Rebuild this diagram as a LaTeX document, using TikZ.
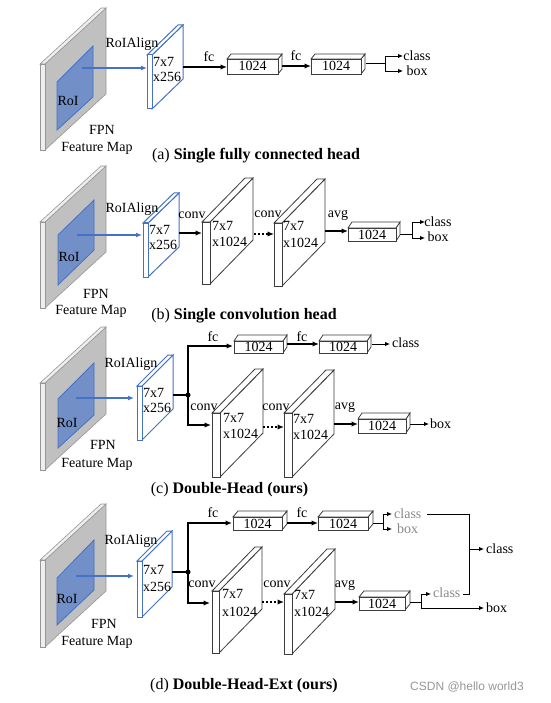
\documentclass[tikz,border=0pt]{standalone}
\usepackage{fontspec}
\setmainfont{Liberation Serif}
\newfontfamily\wmfont{Liberation Sans}
\usetikzlibrary{arrows.meta}
\definecolor{fmgray}{RGB}{192,192,192}
\definecolor{fmedge}{RGB}{150,150,150}
\definecolor{fmlight}{RGB}{238,238,238}
\definecolor{roifill}{RGB}{114,143,199}
\definecolor{roiblue}{RGB}{68,114,196}
\definecolor{boxedge}{RGB}{60,60,60}
\definecolor{graytext}{RGB}{135,135,135}
\definecolor{wmgray}{RGB}{150,150,150}
\tikzset{
  lbl/.style={font=\fontsize{14}{16}\selectfont, inner sep=0pt, text height=9.5pt, text depth=0.5pt},
  glbl/.style={lbl, text=graytext},
  captxt/.style={font=\fontsize{16}{18}\selectfont, inner sep=0pt, text height=11pt, text depth=1pt},
  thickarrow/.style={line width=1.8pt, -{Latex[length=6.5pt,width=5.5pt]}},
  thinarrow/.style={line width=0.9pt, -{Latex[length=5pt,width=4.5pt]}},
  thinline/.style={line width=0.9pt},
  thickline/.style={line width=1.8pt},
  dotarrow/.style={line width=1.8pt, dash pattern=on 2pt off 2pt, -{Latex[length=6.5pt,width=5.5pt]}},
  bluearrow/.style={roiblue, line width=1.3pt, -{Latex[length=6pt,width=5pt]}},
  fm side/.style={fill=fmgray, draw=fmedge, line width=0.6pt},
  fm thin/.style={fill=fmlight, draw=fmedge, line width=0.6pt},
  roi/.style={fill=roifill, draw=roiblue, line width=0.8pt},
  blue side/.style={fill=white, draw=roiblue, line width=1pt},
  blue thin/.style={fill=white, draw=roiblue, line width=1pt},
  conv side/.style={fill=white, draw=boxedge, line width=0.8pt},
  conv thin/.style={fill=white, draw=boxedge, line width=0.8pt},
  box side/.style={fill=white, draw=boxedge, line width=0.8pt},
  box thin/.style={fill=white, draw=boxedge, line width=0.8pt},
  jdot/.style={circle, fill=black, inner sep=0pt, minimum size=5pt},
}
% #1 x0, #2 yt, #3 yb, #4 w, #5 dx, #6 dy, #7 style prefix
\newcommand{\slabdraw}[7]{%
  \path[#7 side] ({#1+#4},#2) -- ({#1+#4+#5},{#2-#6}) -- ({#1+#4+#5},{#3-#6}) -- ({#1+#4},#3) -- cycle;
  \path[#7 thin] (#1,#2) -- ({#1+#5},{#2-#6}) -- ({#1+#4+#5},{#2-#6}) -- ({#1+#4},#2) -- cycle;
  \path[#7 thin] (#1,#2) rectangle ({#1+#4},#3);
}
\begin{document}
\begin{tikzpicture}[x=1pt,y=-1pt]
\useasboundingbox (0,0) rectangle (550,703);

% ================= (a) =================
\slabdraw{40}{64}{150}{5}{61}{56}{fm}
\path[roi] (57,82) -- (93,46) -- (93,97) -- (57,130) -- cycle;
\node[lbl] (a-roi) at (68,101) {RoI};
\node[lbl] (a-fpn) at (102,130) {FPN};
\node[lbl] (a-fmap) at (97,147) {Feature Map};
\coordinate (a-rs) at (82,68);
\coordinate (a-re) at (147,68);
\draw[bluearrow] (a-rs) -- (a-re);
\slabdraw{147}{55}{109}{5}{31}{30}{blue}
\node[lbl] (a-align) at (132,43) {RoIAlign};
\node[lbl, anchor=west] (a-s1) at (153,62) {7x7};
\node[lbl, anchor=west] (a-s2) at (153,77) {x256};
\coordinate (a-o0) at (183,67);
\coordinate (a-i1) at (227,67);
\draw[thickarrow] (a-o0) -- (a-i1);
\node[lbl] (a-fc1) at (209,57) {fc};
\slabdraw{227}{59}{74}{51}{4}{5}{box}
\node[lbl] (a-b1) at (252.5,66.5) {1024};
\coordinate (a-o1) at (282,66);
\coordinate (a-i2) at (311,66);
\draw[thickarrow] (a-o1) -- (a-i2);
\node[lbl] (a-fc2) at (296,56) {fc};
\slabdraw{311}{59}{74}{50}{4}{5}{box}
\node[lbl] (a-b2) at (336,66.5) {1024};
\coordinate (a-o2) at (366,63);
\coordinate (a-j) at (385,63);
\coordinate (a-jt) at (385,56);
\coordinate (a-jb) at (385,71);
\coordinate (a-ct) at (403,56);
\coordinate (a-cb) at (403,71);
\draw[thinline] (a-o2) -- (a-j);
\draw[thinline] (a-jt) -- (a-jb);
\draw[thinarrow] (a-jt) -- (a-ct);
\draw[thinarrow] (a-jb) -- (a-cb);
\node[lbl] (a-class) at (417,56) {class};
\node[lbl] (a-box) at (417,71) {box};
\node[captxt] (a-cap) at (256,155) {(a) \textbf{Single fully connected head}};

% ================= (b) =================
\slabdraw{40}{222}{308}{5}{61}{56}{fm}
\path[roi] (58,235) -- (94,200) -- (94,250) -- (58,285) -- cycle;
\node[lbl] (b-roi) at (69,257) {RoI};
\node[lbl] (b-fpn) at (96,294) {FPN};
\node[lbl] (b-fmap) at (91,310) {Feature Map};
\coordinate (b-rs) at (77,235);
\coordinate (b-re) at (142,235);
\draw[bluearrow] (b-rs) -- (b-re);
\slabdraw{143}{223}{277}{5}{31}{30}{blue}
\node[lbl] (b-align) at (132,208) {RoIAlign};
\node[lbl, anchor=west] (b-s1) at (149,230) {7x7};
\node[lbl, anchor=west] (b-s2) at (149,245) {x256};
\coordinate (b-o0) at (179,233);
\coordinate (b-i1) at (202,233);
\draw[thickarrow] (b-o0) -- (b-i1);
\node[lbl] (b-conv1) at (192,214) {conv};
\slabdraw{202}{222}{284}{8}{43}{44}{conv}
\node[lbl, anchor=west] (b-c1a) at (212,226) {7x7};
\node[lbl, anchor=west] (b-c1b) at (212,242) {x1024};
\coordinate (b-o1) at (254,234);
\coordinate (b-i2) at (274,234);
\draw[dotarrow] (b-o1) -- (b-i2);
\node[lbl] (b-conv2) at (268,213) {conv};
\slabdraw{274}{223}{286}{8}{43}{44}{conv}
\node[lbl, anchor=west] (b-c2a) at (283,226) {7x7};
\node[lbl, anchor=west] (b-c2b) at (283,243) {x1024};
\coordinate (b-o2) at (325,231);
\coordinate (b-i3) at (348,231);
\draw[thickarrow] (b-o2) -- (b-i3);
\node[lbl] (b-avg) at (338,213) {avg};
\slabdraw{348}{228}{241}{48}{4}{6}{box}
\node[lbl] (b-b1) at (372,234.5) {1024};
\coordinate (b-o3) at (400,234);
\coordinate (b-j) at (412,234);
\coordinate (b-jt) at (412,222);
\coordinate (b-jb) at (412,238);
\coordinate (b-ct) at (425,222);
\coordinate (b-cb) at (425,238);
\draw[thinline] (b-o3) -- (b-j);
\draw[thinline] (b-jt) -- (b-jb);
\draw[thinarrow] (b-jt) -- (b-ct);
\draw[thinarrow] (b-jb) -- (b-cb);
\node[lbl] (b-class) at (438,222) {class};
\node[lbl] (b-box) at (438,237) {box};
\node[captxt] (b-cap) at (244,314) {(b) \textbf{Single convolution head}};

% ================= (c) =================
\slabdraw{40}{383}{470}{5}{61}{56}{fm}
\path[roi] (58,399) -- (94,363) -- (94,415) -- (58,448) -- cycle;
\node[lbl] (c-roi) at (67,423) {RoI};
\node[lbl] (c-fpn) at (103,445) {FPN};
\node[lbl] (c-fmap) at (97,463) {Feature Map};
\coordinate (c-rs) at (76,398);
\coordinate (c-re) at (134,398);
\draw[bluearrow] (c-rs) -- (c-re);
\slabdraw{137}{386}{440}{5}{31}{31}{blue}
\node[lbl] (c-align) at (131,363) {RoIAlign};
\node[lbl, anchor=west] (c-s1) at (143,393) {7x7};
\node[lbl, anchor=west] (c-s2) at (143,408) {x256};
\coordinate (c-o0) at (173,395);
\coordinate (c-j) at (188,395);
\coordinate (c-i1) at (233,346);
\coordinate (c-i3) at (211,425);
\draw[thickline] (c-o0) -- (c-j);
\draw[thickarrow] (c-j) |- (c-i1);
\draw[thickarrow] (c-j) |- (c-i3);
\node[jdot] (c-dot) at (c-j) {};
\node[lbl] (c-fc1) at (213,337) {fc};
\slabdraw{234}{341}{353}{49}{4}{6}{box}
\node[lbl] (c-b1) at (258.5,347) {1024};
\coordinate (c-o1) at (287,344);
\coordinate (c-i2) at (319,344);
\draw[thickarrow] (c-o1) -- (c-i2);
\node[lbl] (c-fc2) at (302,337) {fc};
\slabdraw{319}{341}{353}{48}{4}{6}{box}
\node[lbl] (c-b2) at (343,347) {1024};
\coordinate (c-o2) at (372,344);
\coordinate (c-ct) at (390,344);
\draw[thinarrow] (c-o2) -- (c-ct);
\node[lbl, anchor=west] (c-class) at (392,343) {class};
\node[lbl] (c-conv1) at (204,406) {conv};
\slabdraw{212}{413}{477}{8}{43}{44}{conv}
\node[lbl, anchor=west] (c-c1a) at (223,418) {7x7};
\node[lbl, anchor=west] (c-c1b) at (223,434) {x1024};
\coordinate (c-o3) at (263,427);
\coordinate (c-i4) at (284,427);
\draw[dotarrow] (c-o3) -- (c-i4);
\node[lbl] (c-conv2) at (276,406) {conv};
\slabdraw{284}{413}{477}{8}{42}{43}{conv}
\node[lbl, anchor=west] (c-c2a) at (293,419) {7x7};
\node[lbl, anchor=west] (c-c2b) at (293,435) {x1024};
\coordinate (c-o4) at (334,424);
\coordinate (c-i5) at (358,424);
\draw[thickarrow] (c-o4) -- (c-i5);
\node[lbl] (c-avg) at (345,405) {avg};
\slabdraw{358}{419}{433}{48}{4}{6}{box}
\node[lbl] (c-b3) at (382,426) {1024};
\coordinate (c-o5) at (410,424);
\coordinate (c-cb) at (429,424);
\draw[thinarrow] (c-o5) -- (c-cb);
\node[lbl, anchor=west] (c-box) at (430,424) {box};
\node[captxt] (c-cap) at (229.5,488) {(c) \textbf{Double-Head (ours)}};

% ================= (d) =================
\slabdraw{40}{560}{647}{5}{61}{56}{fm}
\path[roi] (57,578) -- (94,540) -- (94,590) -- (57,625) -- cycle;
\node[lbl] (d-roi) at (67,599) {RoI};
\node[lbl] (d-fpn) at (104,624) {FPN};
\node[lbl] (d-fmap) at (97,641) {Feature Map};
\coordinate (d-rs) at (76,576);
\coordinate (d-re) at (134,576);
\draw[bluearrow] (d-rs) -- (d-re);
\slabdraw{137}{561}{617}{5}{30}{30}{blue}
\node[lbl] (d-align) at (131,540) {RoIAlign};
\node[lbl, anchor=west] (d-s1) at (143,570) {7x7};
\node[lbl, anchor=west] (d-s2) at (143,587) {x256};
\coordinate (d-o0) at (172,572);
\coordinate (d-j) at (188,572);
\coordinate (d-i1) at (232,523);
\coordinate (d-i3) at (210,603);
\draw[thickline] (d-o0) -- (d-j);
\draw[thickarrow] (d-j) |- (d-i1);
\draw[thickarrow] (d-j) |- (d-i3);
\node[jdot] (d-dot) at (d-j) {};
\node[lbl] (d-fc1) at (213,513) {fc};
\slabdraw{233}{517}{530}{49}{5}{6}{box}
\node[lbl] (d-b1) at (257.5,523.5) {1024};
\coordinate (d-o1) at (287,523);
\coordinate (d-i2) at (318,523);
\draw[thickarrow] (d-o1) -- (d-i2);
\node[lbl] (d-fc2) at (302,513) {fc};
\slabdraw{318}{517}{530}{50}{5}{6}{box}
\node[lbl] (d-b2) at (343,523.5) {1024};
\coordinate (d-o2) at (373,523);
\coordinate (d-j2) at (383,523);
\coordinate (d-j2t) at (383,514);
\coordinate (d-j2b) at (383,529);
\coordinate (d-gct) at (392,514);
\coordinate (d-gcb) at (392,529);
\draw[thinline] (d-o2) -- (d-j2);
\draw[thinline] (d-j2t) -- (d-j2b);
\draw[thinarrow] (d-j2t) -- (d-gct);
\draw[thinarrow] (d-j2b) -- (d-gcb);
\node[glbl, anchor=west] (d-gclass1) at (394,514) {class};
\node[glbl, anchor=west] (d-gbox1) at (397,529) {box};
\node[lbl] (d-conv1) at (202,583) {conv};
\slabdraw{212}{591}{653}{7}{43}{44}{conv}
\node[lbl, anchor=west] (d-c1a) at (222,594) {7x7};
\node[lbl, anchor=west] (d-c1b) at (222,612) {x1024};
\coordinate (d-o3) at (262,602);
\coordinate (d-i4) at (284,602);
\draw[dotarrow] (d-o3) -- (d-i4);
\node[lbl] (d-conv2) at (277,583) {conv};
\slabdraw{284}{594}{654}{8}{43}{45}{conv}
\node[lbl, anchor=west] (d-c2a) at (294,595) {7x7};
\node[lbl, anchor=west] (d-c2b) at (294,612) {x1024};
\coordinate (d-o4) at (335,602);
\coordinate (d-i5) at (359,602);
\draw[thickarrow] (d-o4) -- (d-i5);
\node[lbl] (d-avg) at (345,583) {avg};
\slabdraw{359}{597}{610}{46}{5}{6}{box}
\node[lbl] (d-b3) at (382,603.5) {1024};
\coordinate (d-o5) at (410,602);
\coordinate (d-j3) at (421,602);
\coordinate (d-j3t) at (421,594);
\coordinate (d-j3b) at (421,608);
\coordinate (d-gc2in) at (431,594);
\coordinate (d-boxin) at (484,608);
\draw[thinline] (d-o5) -- (d-j3);
\draw[thinline] (d-j3t) -- (d-j3b);
\draw[thinarrow] (d-j3t) -- (d-gc2in);
\draw[thinarrow] (d-j3b) -- (d-boxin);
\node[glbl, anchor=west] (d-gclass2) at (433,593) {class};
\node[lbl, anchor=west] (d-box) at (486,608) {box};
% merge connector
\coordinate (d-m1) at (427,514);
\coordinate (d-m2) at (469,514);
\coordinate (d-m3) at (469,594);
\coordinate (d-m4) at (463,594);
\coordinate (d-mj) at (469,549);
\coordinate (d-clsin) at (484,549);
\draw[thinline] (d-m1) -- (d-m2) -- (d-m3) -- (d-m4);
\draw[thinarrow] (d-mj) -- (d-clsin);
\node[lbl, anchor=west] (d-class) at (486,549) {class};
\node[captxt] (d-cap) at (244,684) {(d) \textbf{Double-Head-Ext (ours)}};

% watermark
\node[font=\wmfont\fontsize{12}{14}\selectfont, text=wmgray, inner sep=0pt, anchor=west] (wm) at (410,687) {CSDN @hello world3};
\end{tikzpicture}
\end{document}
